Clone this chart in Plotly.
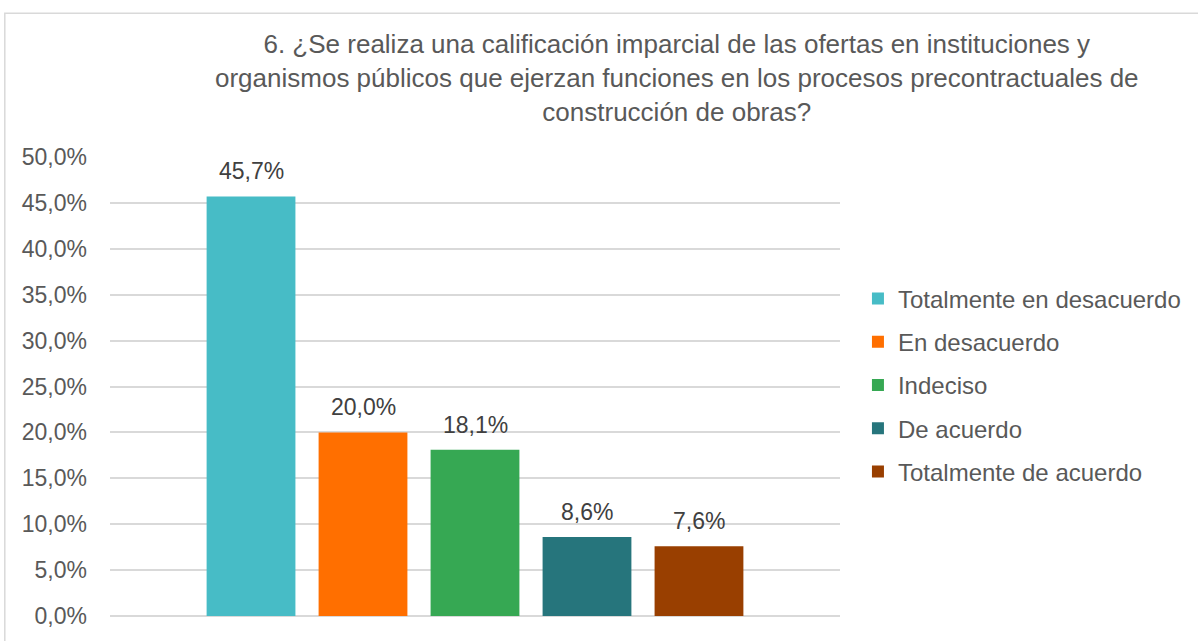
import plotly.graph_objects as go

categories = ["Totalmente en desacuerdo", "En desacuerdo", "Indeciso", "De acuerdo", "Totalmente de acuerdo"]
values = [45.7, 20.0, 18.1, 8.6, 7.6]
colors = ["#47BCC6", "#FF6F00", "#36A853", "#26757C", "#993F00"]
y_ticks = [0, 5, 10, 15, 20, 25, 30, 35, 40, 45, 50]
y_tick_labels = [f"{v:.1f}%".replace(".", ",") for v in y_ticks]
title_lines = [
    "6. ¿Se realiza una calificación imparcial de las ofertas en instituciones y",
    "organismos públicos que ejerzan funciones en los procesos precontractuales de",
    "construcción de obras?",
]

W, H = 1198, 641
L, R, T, B = 110, 356, 157, 23
pw, ph = W - L - R, H - T - B

FONT = "Liberation Sans, Arial, sans-serif"

fig = go.Figure()
for i, (cat, v, c) in enumerate(zip(categories, values, colors)):
    fig.add_trace(go.Bar(
        x=[cat], y=[v], name=cat, marker=dict(color=c, line=dict(width=0)),
        legendgroup=f"g{i}", hoverinfo="skip",
    ))

annotations = []
for cat, v in zip(categories, values):
    annotations.append(dict(
        x=cat, y=v, xref="x", yref="y", text=f"{v:.1f}%".replace(".", ","),
        showarrow=False, yanchor="middle", yshift=25,
        font=dict(size=23, color="#404040", family=FONT),
    ))

def px_x(x):
    return (x - L) / pw

def px_y(y):
    return (H - B - y) / ph

annotations.append(dict(
    text="<br>".join(title_lines), xref="paper", yref="paper",
    x=px_x(679), y=px_y(78), xanchor="center", yanchor="middle",
    showarrow=False, align="center",
    font=dict(size=26, color="#595959", family=FONT),
))

pad = (pw / 112.3 - len(categories)) / 2

fig.update_layout(
    width=W, height=H,
    margin=dict(l=L, r=R, t=T, b=B),
    paper_bgcolor="white", plot_bgcolor="white",
    barmode="overlay", bargap=0.207,
    font=dict(family=FONT, color="#595959", size=23),
    showlegend=True,
    legend=dict(
        x=px_x(860), xanchor="left", y=px_y(386), yanchor="middle",
        font=dict(size=24, color="#595959", family=FONT),
        itemwidth=30, tracegroupgap=9, bgcolor="rgba(0,0,0,0)",
        traceorder="grouped",
    ),
    xaxis=dict(showticklabels=False, showgrid=False, zeroline=False, showline=False, ticks="",
               range=[-0.5 - pad, len(categories) - 0.5 + pad], categoryorder="array",
               categoryarray=categories),
    yaxis=dict(
        range=[0, 50], tickmode="array", tickvals=y_ticks, ticktext=y_tick_labels,
        showgrid=True, gridcolor="#D9D9D9", gridwidth=1.5,
        zeroline=True, zerolinecolor="#D9D9D9", zerolinewidth=1.5,
        showline=False, ticks="", ticklabelstandoff=22,
        tickfont=dict(size=23, color="#595959", family=FONT),
    ),
    annotations=annotations,
    shapes=[dict(
        type="rect", xref="paper", yref="paper",
        x0=px_x(4.5), x1=px_x(1210), y0=px_y(660), y1=px_y(12.5),
        line=dict(color="#D9D9D9", width=1.5), fillcolor="rgba(0,0,0,0)", layer="below",
    )],
)

fig.write_html(
    "out.html",
    config={"displayModeBar": False},
    post_script="document.body.style.margin='0';document.body.style.overflow='hidden';",
)
